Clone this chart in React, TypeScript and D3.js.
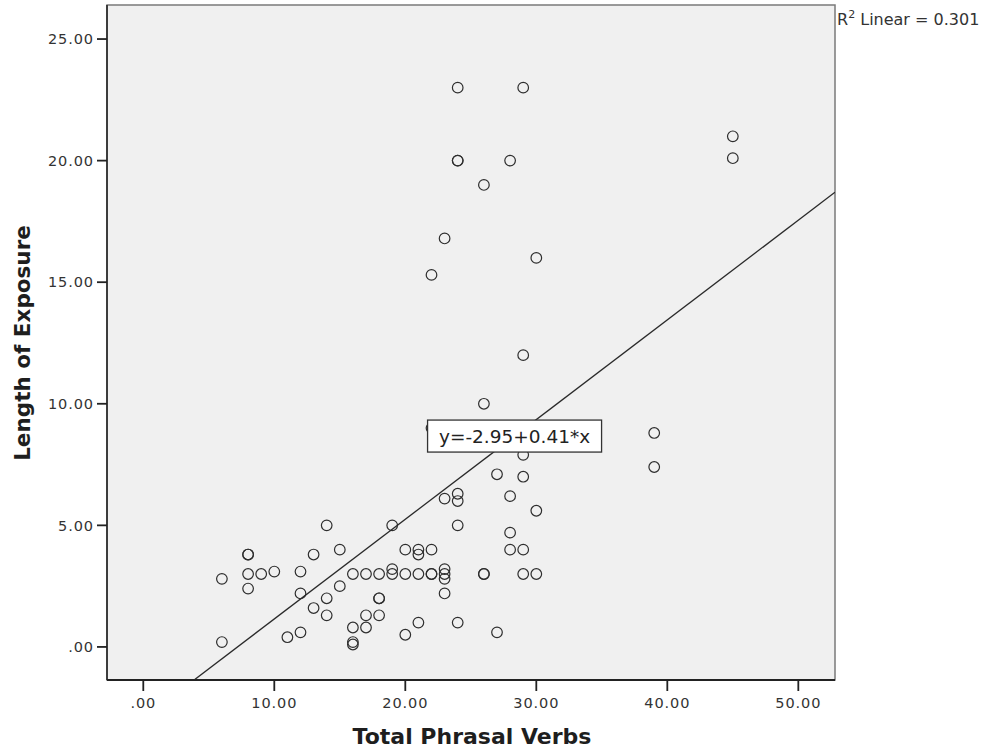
import * as d3 from 'd3'

// values
const totalPhrasalVerbs = [
  24, 29, 24, 24, 28, 26, 23, 30, 22, 45, 45, 29, 26, 22, 39, 39, 29, 29, 27, 23,
  24, 24, 28, 30, 24, 14, 19, 28, 28, 29, 8, 8, 13, 15, 20, 21, 21, 22, 6, 8,
  9, 10, 12, 8, 12, 16, 17, 18, 19, 19, 20, 21, 22, 22, 23, 23, 23, 26, 26, 29,
  30, 23, 13, 14, 14, 15, 18, 18, 17, 18, 16, 17, 16, 16, 11, 12, 6, 20, 21, 24, 27,
]
const lengthOfExposure = [
  23.0, 23.0, 20.0, 20.0, 20.0, 19.0, 16.8, 16.0, 15.3, 21.0, 20.1, 12.0, 10.0, 9.0, 8.8, 7.4, 7.9, 7.0, 7.1, 6.1,
  6.3, 6.0, 6.2, 5.6, 5.0, 5.0, 5.0, 4.7, 4.0, 4.0, 3.8, 3.8, 3.8, 4.0, 4.0, 4.0, 3.8, 4.0, 2.8, 3.0,
  3.0, 3.1, 3.1, 2.4, 2.2, 3.0, 3.0, 3.0, 3.2, 3.0, 3.0, 3.0, 3.0, 3.0, 3.2, 3.0, 2.8, 3.0, 3.0, 3.0,
  3.0, 2.2, 1.6, 2.0, 1.3, 2.5, 2.0, 2.0, 1.3, 1.3, 0.8, 0.8, 0.2, 0.1, 0.4, 0.6, 0.2, 0.5, 1.0, 1.0, 0.6,
]
const xTicks = [0, 10, 20, 30, 40, 50]
const yTicks = [0, 5, 10, 15, 20, 25]
const intercept = -2.95
const slope = 0.41
const equationText = 'y=-2.95+0.41*x'
const equationAt = [21.7, 9.33] // data units, top-left of the label box
const rSquared = '0.301'

const W = 991
const H = 748
const margin = { left: 107, top: 5, right: 156, bottom: 68 }

function fmt(v: number) {
  const s = d3.format('.2f')(v)
  return s.startsWith('0.') ? s.slice(1) : s
}

export default function App() {
  const innerW = W - margin.left - margin.right
  const innerH = H - margin.top - margin.bottom
  const x = d3.scaleLinear().domain([-2.77, 52.8]).range([0, innerW])
  const y = d3.scaleLinear().domain([-1.36, 26.4]).range([innerH, 0])

  const points = totalPhrasalVerbs.map((v, i) => [v, lengthOfExposure[i]])
  const xStart = (y.domain()[0] - intercept) / slope
  const xEnd = x.domain()[1]
  const fitLine = d3.line()([
    [x(xStart), y(intercept + slope * xStart)],
    [x(xEnd), y(intercept + slope * xEnd)],
  ])

  const font = "'DejaVu Sans', sans-serif"
  const eqX = x(equationAt[0])
  const eqY = y(equationAt[1])

  return (
    <div style={{ position: 'fixed', left: 0, top: 0, background: '#fff' }}>
      <svg width={W} height={H} style={{ display: 'block' }} fontFamily={font}>
        <defs>
          <clipPath id='plot-clip'>
            <rect x={0} y={0} width={innerW} height={innerH} />
          </clipPath>
        </defs>
        <g transform={`translate(${margin.left},${margin.top})`}>
          <rect x={0} y={0} width={innerW} height={innerH} fill='#f0f0f0' stroke='#7a7a7a' strokeWidth={1.5} />
          <g clipPath='url(#plot-clip)'>
            {points.map((p, i) => (
              <circle key={i} cx={x(p[0])} cy={y(p[1])} r={5.3} fill='none' stroke='#2e2e2e' strokeWidth={1.2} />
            ))}
            <path d={fitLine ?? ''} fill='none' stroke='#2a2a2a' strokeWidth={1.3} />
          </g>
          {/* axes */}
          <line x1={0} x2={0} y1={0} y2={innerH} stroke='#333' strokeWidth={1.8} />
          <line x1={0} x2={innerW} y1={innerH} y2={innerH} stroke='#222' strokeWidth={1.8} />
          {yTicks.map(t => (
            <g key={t} transform={`translate(0,${y(t)})`}>
              <line x1={-10} x2={0} stroke='#222' strokeWidth={1.8} />
              <text x={-13} dy='0.36em' textAnchor='end' fontSize={14.5} letterSpacing={0.9} fill='#333'>{fmt(t)}</text>
            </g>
          ))}
          {xTicks.map(t => (
            <g key={t} transform={`translate(${x(t)},${innerH})`}>
              <line y1={0} y2={11} stroke='#222' strokeWidth={1.8} />
              <text y={28} textAnchor='middle' fontSize={14.5} letterSpacing={0.9} fill='#333'>{fmt(t)}</text>
            </g>
          ))}
          {/* equation label */}
          <g transform={`translate(${eqX},${eqY})`}>
            <rect x={0} y={0} width={174} height={32} fill='#fff' stroke='#333' strokeWidth={1.3} />
            <text x={87} y={22.5} textAnchor='middle' fontSize={18.5} fill='#222'>{equationText}</text>
          </g>
        </g>
        <text x={472} y={744} textAnchor='middle' fontSize={22} fontWeight='bold' fill='#1e1e1e'>
          Total Phrasal Verbs
        </text>
        <text
          transform={`translate(30,343) rotate(-90)`}
          textAnchor='middle'
          fontSize={21.5}
          fontWeight='bold'
          fill='#1e1e1e'
        >
          Length of Exposure
        </text>
        <text x={837} y={25} fontSize={16} fill='#333'>
          R<tspan dy={-7} fontSize={11}>2</tspan>
          <tspan dy={7}> Linear = {rSquared}</tspan>
        </text>
      </svg>
    </div>
  )
}
